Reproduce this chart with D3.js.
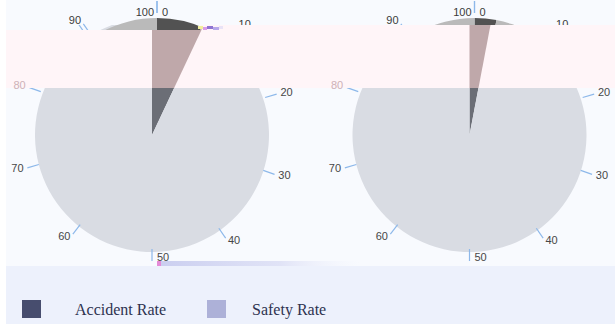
<!DOCTYPE html>
<html>
<head>
<meta charset="utf-8">
<script src="https://cdn.jsdelivr.net/npm/d3@7"></script>
<style>
  html, body { margin: 0; padding: 0; background: #ffffff; }
  svg { display: block; }
</style>
</head>
<body>
<svg id="chart" width="615" height="324"></svg>
<script>
// ---- data ----
const categories = ["Accident Rate", "Safety Rate"];
const leftValues = [7, 93];
const rightValues = [3, 97];
const angleTicks = [0, 10, 20, 30, 40, 50, 60, 70, 80, 90, 100];
const angleMax = 100;

// ---- styling ----
const W = 615, H = 324;
const pieColors = ["#6b6e76", "#d9dce3"];
const capColors = ["#525252", "#bababa"];
const bandSliceColor = "#bfa8aa";
const legendColors = ["#474d6e", "#adb1d8"];
const capShift = 5;

const svg = d3.select("#chart");
const defs = svg.append("defs");

// page backgrounds
svg.append("rect").attr("x", 0).attr("y", 0).attr("width", W).attr("height", H).attr("fill", "#ffffff");
svg.append("rect").attr("x", 6).attr("y", 0).attr("width", W - 6).attr("height", H).attr("fill", "#f8fafe");

// geometry of the two pies
const pies = [
  { cx: 152, values: leftValues },
  { cx: 469.5, values: rightValues }
];
const cy = 135, radius = 117;
const axisCy = 131, tickIn = 118, tickOut = 130, labelR = 134, axisTurn = 1.5 * Math.PI / 180;

const angle = d3.scaleLinear().domain([0, angleMax]).range([0, 2 * Math.PI]);
const pie = d3.pie().sort(null).value(d => d).startAngle(0).endAngle(2 * Math.PI);
const arc = d3.arc().innerRadius(0).outerRadius(radius);

// header cap and tinted band regions
const capBottom = x => (x < 200 ? 30 : 25);
const bandBottom = 88;
const capPath = "M0,0H615V25H200V30H0Z";
const bandPath = "M6,30H200V25H615V88H6Z";
defs.append("clipPath").attr("id", "clipCap").append("path").attr("d", capPath);
defs.append("clipPath").attr("id", "clipBand").append("path").attr("d", bandPath);
defs.append("clipPath").attr("id", "clipBody").append("rect")
  .attr("x", 0).attr("y", 25).attr("width", W).attr("height", H - 25);

const bodyLayer = svg.append("g").attr("clip-path", "url(#clipBody)");
const capLayer = svg.append("g").attr("clip-path", "url(#clipCap)")
  .append("g").attr("transform", `translate(${capShift},0)`);

function drawSlices(g, p, colors, onlyFirst) {
  const arcs = pie(p.values);
  g.append("g")
    .attr("transform", `translate(${p.cx},${cy})`)
    .selectAll("path")
    .data(onlyFirst ? arcs.slice(0, 1) : arcs)
    .join("path")
    .attr("d", arc)
    .attr("fill", (d, i) => colors[i]);
}

function drawTicks(g, p) {
  const a = v => angle(v) + axisTurn * (v % angleMax === 0 || v === angleMax / 2 ? 0 : 1);
  g.append("g").selectAll("line")
    .data(angleTicks)
    .join("line")
    .attr("x1", v => p.cx + tickIn * Math.sin(a(v)))
    .attr("y1", v => axisCy - tickIn * Math.cos(a(v)))
    .attr("x2", v => p.cx + tickOut * Math.sin(a(v)))
    .attr("y2", v => axisCy - tickOut * Math.cos(a(v)))
    .attr("stroke", "#8db8ea")
    .attr("stroke-width", 1.2);
}

function labelPos(p, v) {
  const a = angle(v);
  const s = Math.sin(a), c = Math.cos(a);
  if (Math.abs(s) < 0.01) {
    const top = c > 0;
    return {
      x: v === angleMax ? p.cx - 3 : p.cx + 5,
      y: top ? axisCy - 119 : axisCy + 126,
      anchor: v === angleMax ? "end" : "start"
    };
  }
  const t = a + axisTurn;
  return {
    x: p.cx + labelR * Math.sin(t),
    y: axisCy - 1 - labelR * Math.cos(t),
    anchor: s > 0 ? "start" : "end"
  };
}

// tick labels: each one lives in the layer its position falls in
const labelLayerBody = svg.append("g");
function placeLabels(p) {
  angleTicks.forEach(v => {
    const pos = labelPos(p, v);
    let g, color, dx = 0;
    if (pos.y < capBottom(pos.x)) { g = capLayer; color = "#3a3a3a"; }
    else if (pos.y < bandBottom) { g = null; color = "#cdb1b7"; }
    else { g = labelLayerBody; color = "#474747"; }
    pos.color = color;
    pos.v = v;
    pos.layer = g;
    p.labels = p.labels || [];
    p.labels.push(pos);
  });
}

function drawLabels(g, list) {
  g.selectAll(null)
    .data(list)
    .join("text")
    .attr("x", d => d.x)
    .attr("y", d => d.y)
    .attr("text-anchor", d => d.anchor)
    .attr("dominant-baseline", "central")
    .attr("font-family", "'Liberation Sans', Arial, sans-serif")
    .attr("font-size", 11)
    .attr("fill", d => d.color)
    .text(d => d.v);
}

// main body and the offset header cap
pies.forEach(p => {
  drawSlices(bodyLayer, p, pieColors, false);
  drawTicks(bodyLayer, p);
  drawSlices(capLayer, p, capColors, false);
  drawTicks(capLayer, p);
  placeLabels(p);
});
labelLayerBody.raise();

// tinted band across the top
svg.append("path").attr("d", bandPath).attr("fill", "#fff5f8");
const bandLayer = svg.append("g").attr("clip-path", "url(#clipBand)");
const bandLabels = svg.append("g");
pies.forEach(p => {
  drawSlices(bandLayer, p, [bandSliceColor], true);
  drawLabels(labelLayerBody, p.labels.filter(d => d.layer === labelLayerBody));
  drawLabels(capLayer, p.labels.filter(d => d.layer === capLayer));
  drawLabels(bandLabels, p.labels.filter(d => d.layer === null));
});

// small colour speckle at the band edge
const speckle = [["#f2ef9c", 198, 26, 5], ["#d89be8", 203, 27, 4], ["#8f74d2", 207, 26, 6], ["#b7a8ea", 213, 27, 6], ["#e9e3f6", 219, 26, 4]];
svg.append("g").selectAll("rect").data(speckle).join("rect")
  .attr("x", d => d[1]).attr("y", d => d[2]).attr("width", d => d[3]).attr("height", 3)
  .attr("fill", d => d[0]);

// faint strip above the legend panel
const grad = defs.append("linearGradient").attr("id", "stripGrad");
grad.append("stop").attr("offset", "0%").attr("stop-color", "#c8ccef").attr("stop-opacity", 0.95);
grad.append("stop").attr("offset", "60%").attr("stop-color", "#d6d9f3").attr("stop-opacity", 0.7);
grad.append("stop").attr("offset", "100%").attr("stop-color", "#eef1fc").attr("stop-opacity", 0);
svg.append("rect").attr("x", 160).attr("y", 261).attr("width", 200).attr("height", 5).attr("fill", "url(#stripGrad)");
svg.append("rect").attr("x", 157).attr("y", 261).attr("width", 4).attr("height", 5).attr("fill", "#e58bd8");

// legend panel
svg.append("rect").attr("x", 6).attr("y", 266).attr("width", W - 6).attr("height", H - 266).attr("fill", "#edf1fc");

const legendSwatchX = [22, 207];
const legendTextX = [75, 252];
const legend = svg.append("g").selectAll("g")
  .data(categories)
  .join("g");
legend.append("rect")
  .attr("x", (d, i) => legendSwatchX[i]).attr("y", 300)
  .attr("width", 19).attr("height", 18)
  .attr("fill", (d, i) => legendColors[i]);
legend.append("text")
  .attr("x", (d, i) => legendTextX[i]).attr("y", 314.5)
  .attr("font-family", "'Liberation Serif', 'Times New Roman', serif")
  .attr("font-size", 16)
  .attr("fill", "#2e3350")
  .text(d => d);
</script>
</body>
</html>
